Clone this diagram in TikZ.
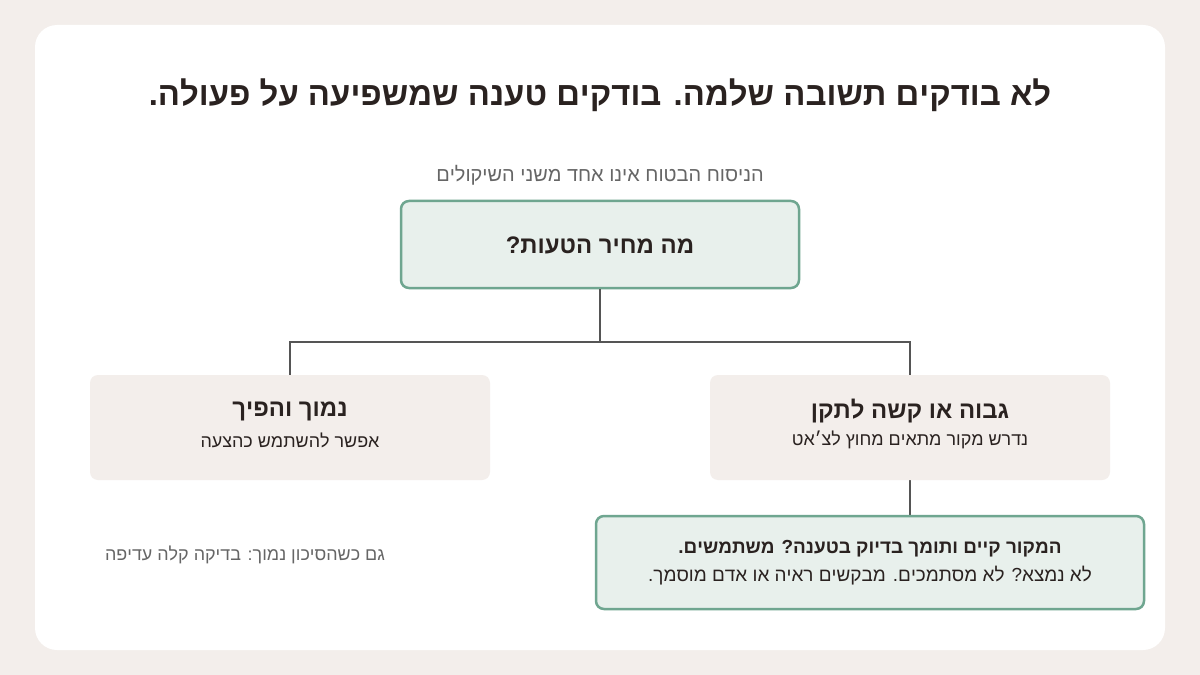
\documentclass[tikz,border=0pt]{standalone}
\usepackage{fontspec}
\setmainfont{Liberation Sans}
\TeXXeTstate=1
\newcommand{\heb}[1]{\beginR #1\endR}
\definecolor{bgc}{HTML}{F3EEEB}
\definecolor{grn}{HTML}{E8F0EC}
\definecolor{grnb}{HTML}{6FA690}
\definecolor{ink}{HTML}{2A2220}
\definecolor{gry}{HTML}{666666}
\definecolor{lnc}{HTML}{555555}
\begin{document}
\begin{tikzpicture}[x=1bp,y=-1bp,
  gbox/.style={draw=grnb,line width=2.5bp,fill=grn,rounded corners=8bp},
  pbox/.style={fill=bgc,rounded corners=8bp},
  conn/.style={draw=lnc,line width=2.5bp}]
\fill[bgc] (0,0) rectangle (1200,675);
\useasboundingbox (0,0) rectangle (1200,675);
\fill[white,rounded corners=22bp] (35,25) rectangle (1165,650);
\node[text=ink,font=\fontsize{33}{38}\selectfont\bfseries] (title) at (600,95) {\heb{לא בודקים תשובה שלמה. בודקים טענה שמשפיעה על פעולה.}};
\node[text=gry,font=\fontsize{20}{24}\selectfont] (sub) at (600,175) {\heb{הניסוח הבטוח אינו אחד משני השיקולים}};
\path[gbox] (401,201) rectangle (799,288);
\node[text=ink,font=\fontsize{24}{28}\selectfont\bfseries] (q) at (600,245) {\heb{מה מחיר הטעות?}};
\coordinate (qb) at (600,289);
\coordinate (j) at (600,342);
\coordinate (jl) at (290,342);
\coordinate (jr) at (910,342);
\coordinate (lt) at (290,375);
\coordinate (rt) at (910,375);
\coordinate (rb) at (910,480);
\coordinate (bt) at (910,516);
\draw[conn] (qb) -- (j);
\draw[conn] (lt) -- (jl) -- (jr) -- (rt);
\draw[conn] (rb) -- (bt);
\path[pbox] (90,375) rectangle (490,480);
\path[pbox] (710,375) rectangle (1110,480);
\node[text=ink,font=\fontsize{24}{28}\selectfont\bfseries] (lh) at (290,411) {\heb{נמוך והפיך}};
\node[text=ink,font=\fontsize{18}{22}\selectfont] (ls) at (290,440) {\heb{אפשר להשתמש כהצעה}};
\node[text=ink,font=\fontsize{24}{28}\selectfont\bfseries] (rh) at (910,411) {\heb{גבוה או קשה לתקן}};
\node[text=ink,font=\fontsize{18}{22}\selectfont] (rs) at (910,440) {\heb{נדרש מקור מתאים מחוץ לצ׳אט}};
\path[gbox] (596,516) rectangle (1144,609);
\node[text=ink,font=\fontsize{19}{23}\selectfont\bfseries] (bh) at (870,549) {\heb{המקור קיים ותומך בדיוק בטענה? משתמשים.}};
\node[text=ink,font=\fontsize{19}{23}\selectfont] (bs) at (870,576) {\heb{לא נמצא? לא מסתמכים. מבקשים ראיה או אדם מוסמך.}};
\node[text=gry,font=\fontsize{18}{22}\selectfont] (fn) at (245,555) {\heb{גם כשהסיכון נמוך: בדיקה קלה עדיפה}};
\end{tikzpicture}
\end{document}
